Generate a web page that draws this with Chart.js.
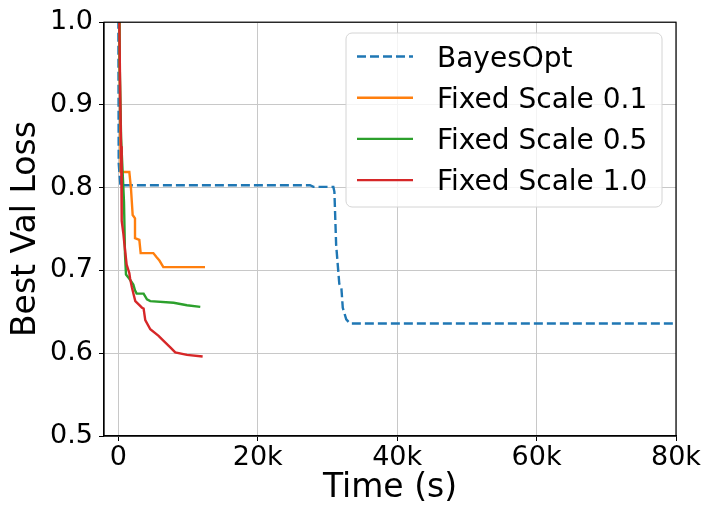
<!DOCTYPE html>
<html>
<head>
<meta charset="utf-8">
<script src="https://cdn.jsdelivr.net/npm/chart.js@4.4.1/dist/chart.umd.min.js"></script>
<style>
  body { margin: 0; background: #fff; }
</style>
</head>
<body>
<canvas id="lossChart" width="705" height="508"></canvas>
<script>
// Zeitpunkte (s) und bester Val-Loss je Verfahren
const bayesTime = [0, 60, 300, 27500, 28000, 30850, 31000, 31250, 31700, 32000, 32200, 32700, 33240, 80000];
const bayesLoss = [1.05, 0.83, 0.803, 0.803, 0.801, 0.801, 0.795, 0.731, 0.684, 0.679, 0.655, 0.641, 0.636, 0.636];

const scale01Time = [60, 200, 340, 1583, 1820, 2062, 2396, 2400, 3018, 3210, 5027, 5500, 5900, 6460, 12440];
const scale01Loss = [1.2, 0.95, 0.819, 0.819, 0.799, 0.767, 0.763, 0.739, 0.737, 0.721, 0.721, 0.716, 0.712, 0.704, 0.704];

const scale05Time = [60, 200, 400, 818, 961, 1105, 1583, 2157, 2396, 2630, 3630, 4110, 4590, 7940, 9850, 11760];
const scale05Loss = [1.2, 0.95, 0.86, 0.783, 0.72, 0.695, 0.69, 0.683, 0.676, 0.672, 0.672, 0.665, 0.663, 0.661, 0.658, 0.656];

const scale10Time = [60, 150, 280, 400, 490, 720, 900, 1200, 1580, 1700, 1965, 2200, 2440, 2920, 3400, 3630, 3870, 4590, 5780, 6500, 7460, 8170, 9850, 12100];
const scale10Loss = [1.2, 1.0, 0.91, 0.85, 0.76, 0.745, 0.73, 0.707, 0.697, 0.69, 0.679, 0.671, 0.663, 0.659, 0.655, 0.654, 0.64, 0.629, 0.621, 0.615, 0.607, 0.601, 0.598, 0.596];

// Achsenbeschriftungen
const xTicks = [0, 20000, 40000, 60000, 80000];
const yTicks = [0.5, 0.6, 0.7, 0.8, 0.9, 1.0];

Chart.defaults.font.family = '"DejaVu Sans", sans-serif';
Chart.defaults.color = '#000';

function toPoints(times, losses) {
    return times.map((t, i) => ({x: t, y: losses[i]}));
}

// Rahmen oben/rechts um die Plotfläche
const frame = {
    id: 'frame',
    afterDatasetsDraw(chart) {
        const {ctx, chartArea: a} = chart;
        ctx.save();
        ctx.strokeStyle = '#000';
        ctx.lineWidth = 1.2;
        ctx.strokeRect(a.left, a.top, a.right - a.left, a.bottom - a.top);
        ctx.restore();
    }
};

// Legende innerhalb der Plotfläche (oben rechts)
const legendBox = {
    id: 'legendBox',
    afterDraw(chart) {
        const ctx = chart.ctx;
        ctx.save();
        ctx.beginPath();
        ctx.roundRect(346, 33, 316, 174, 6);
        ctx.fillStyle = 'rgba(255,255,255,0.8)';
        ctx.fill();
        ctx.strokeStyle = '#d4d4d4';
        ctx.lineWidth = 1;
        ctx.stroke();
        chart.data.datasets.forEach(function(ds, i) {
            var rowY = 56.5 + i * 41.2;
            ctx.beginPath();
            ctx.setLineDash(ds.borderDash || []);
            ctx.strokeStyle = ds.borderColor;
            ctx.lineWidth = ds.borderWidth;
            ctx.moveTo(357, rowY);
            ctx.lineTo(413, rowY);
            ctx.stroke();
            ctx.setLineDash([]);
            ctx.fillStyle = '#000';
            ctx.font = '28px "DejaVu Sans"';
            ctx.textBaseline = 'alphabetic';
            ctx.fillText(ds.label, 437, rowY + 10);
        });
        ctx.restore();
    }
};

const ctx = document.getElementById('lossChart').getContext('2d');
const chart = new Chart(ctx, {
    type: 'line',
    data: {
        datasets: [{
            label: 'BayesOpt',
            data: toPoints(bayesTime, bayesLoss),
            borderColor: '#1f77b4',
            borderWidth: 2.4,
            borderDash: [9, 4],
            order: 4
        }, {
            label: 'Fixed Scale 0.1',
            data: toPoints(scale01Time, scale01Loss),
            borderColor: '#ff7f0e',
            borderWidth: 2.4,
            order: 3
        }, {
            label: 'Fixed Scale 0.5',
            data: toPoints(scale05Time, scale05Loss),
            borderColor: '#2ca02c',
            borderWidth: 2.4,
            order: 2
        }, {
            label: 'Fixed Scale 1.0',
            data: toPoints(scale10Time, scale10Loss),
            borderColor: '#d62728',
            borderWidth: 2.4,
            order: 1
        }]
    },
    options: {
        responsive: false,
        animation: false,
        layout: { padding: { top: 19, right: 29, left: 0, bottom: 0 } },
        elements: {
            point: { radius: 0 },
            line: { tension: 0, fill: false }
        },
        plugins: {
            legend: { display: false },
            tooltip: { enabled: false }
        },
        scales: {
            x: {
                type: 'linear',
                min: -2050,
                max: 80000,
                afterBuildTicks: function(s) { s.ticks = xTicks.map(v => ({value: v})); },
                afterFit: function(s) { s.height = 72; },
                ticks: {
                    callback: v => v === 0 ? '0' : (v / 1000) + 'k',
                    font: { size: 27 },
                    padding: 1,
                    maxRotation: 0,
                    autoSkip: false
                },
                grid: { color: '#c8c8c8', lineWidth: 1, tickColor: '#000', tickLength: 5 },
                border: { color: '#000', width: 1.2 },
                title: { display: true, text: 'Time (s)', font: { size: 33 }, padding: 0 }
            },
            y: {
                type: 'linear',
                min: 0.5,
                max: 1.0,
                afterBuildTicks: function(s) { s.ticks = yTicks.map(v => ({value: v})); },
                afterFit: function(s) { s.width = 104; },
                ticks: {
                    callback: v => v.toFixed(1),
                    font: { size: 27 },
                    padding: 6
                },
                grid: { color: '#c8c8c8', lineWidth: 1, tickColor: '#000', tickLength: 5 },
                border: { color: '#000', width: 1.2 },
                title: { display: true, text: 'Best Val Loss', font: { size: 33 }, padding: { top: 7 } }
            }
        }
    },
    plugins: [frame, legendBox]
});
</script>
</body>
</html>
